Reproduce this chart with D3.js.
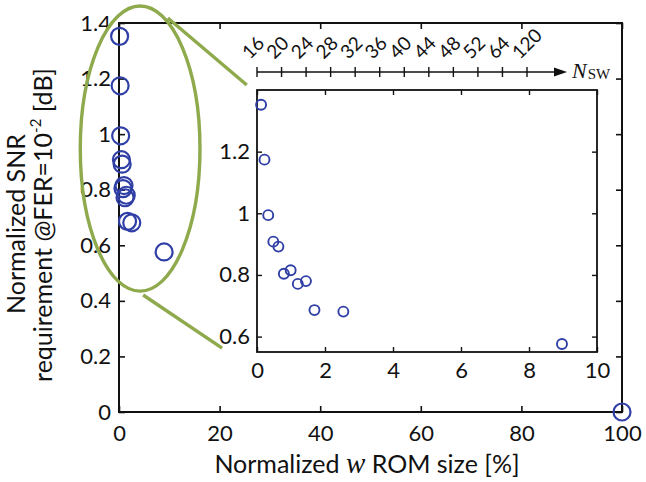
<!DOCTYPE html>
<html>
<head>
<meta charset="utf-8">
<script src="https://cdn.jsdelivr.net/npm/d3@7"></script>
<style>
  html, body { margin: 0; padding: 0; background: #fff; }
  svg { display: block; }
  text { font-family: Lato, "Open Sans", sans-serif; fill: #111; }
</style>
</head>
<body>
<svg id="chart" width="646" height="482"></svg>
<script>
// Normalized W-ROM size [%] and normalized SNR requirement [dB] per design point
const romSize = [0.12, 0.22, 0.33, 0.48, 0.63, 0.79, 0.99, 1.20, 1.44, 1.69, 2.54, 8.97, 100];
const snrReq  = [1.352, 1.174, 0.994, 0.908, 0.892, 0.804, 0.815, 0.771, 0.780, 0.686, 0.681, 0.576, 0];

// Sliding-window sizes shown on the N_SW scale above the zoomed view
const nswLabels = ["16", "20", "24", "28", "32", "36", "40", "44", "48", "52", "64", "120"];

// Tick values
const mainXTicks = [0, 20, 40, 60, 80, 100];
const mainYTicks = [0, 0.2, 0.4, 0.6, 0.8, 1.0, 1.2, 1.4];
const zoomXTicks = [0, 2, 4, 6, 8, 10];
const zoomYTicks = [0.6, 0.8, 1.0, 1.2];

const BLUE = "#2f3fa5";
const GREEN = "#8eaa4c";
const TICK_FONT = "22px";
const LABEL_FONT = "25px";

const svg = d3.select("#chart");
const fmt = d => (d === 0 ? "0" : d3.format("~g")(d));

// ---------- main axes ----------
const M = { left: 119, right: 622, top: 23, bottom: 412 };
const x = d3.scaleLinear().domain([0, 100]).range([M.left, M.right]);
const y = d3.scaleLinear().domain([0, 1.4]).range([M.bottom, M.top]);

function styleAxis(g, width) {
  g.selectAll(".domain").remove();
  g.selectAll(".tick line").attr("stroke", "#111").attr("stroke-width", width);
  g.selectAll(".tick text").style("font-size", TICK_FONT).attr("fill", "#111");
}

svg.append("g").attr("transform", `translate(0,${M.bottom})`)
  .call(d3.axisBottom(x).tickValues(mainXTicks).tickSize(-6).tickPadding(13).tickFormat(fmt))
  .call(g => styleAxis(g, 1.6));
svg.append("g").attr("transform", `translate(${M.left},0)`)
  .call(d3.axisLeft(y).tickValues(mainYTicks).tickSize(-6).tickPadding(8).tickFormat(fmt))
  .call(g => styleAxis(g, 1.6));
// mirrored ticks on top and right
svg.append("g").attr("transform", `translate(0,${M.top})`)
  .call(d3.axisTop(x).tickValues(mainXTicks).tickSize(-6).tickFormat(""))
  .call(g => styleAxis(g, 1.6));
svg.append("g").attr("transform", `translate(${M.right},0)`)
  .call(d3.axisRight(y).tickValues(mainYTicks).tickSize(-6).tickFormat(""))
  .call(g => styleAxis(g, 1.6));

svg.append("rect")
  .attr("x", M.left).attr("y", M.top)
  .attr("width", M.right - M.left).attr("height", M.bottom - M.top)
  .attr("fill", "none").attr("stroke", "#111").attr("stroke-width", 2);

// main scatter
svg.append("g").selectAll("circle")
  .data(d3.zip(romSize, snrReq))
  .join("circle")
  .attr("cx", d => x(d[0])).attr("cy", d => y(d[1]))
  .attr("r", 8.5)
  .attr("fill", "none").attr("stroke", BLUE).attr("stroke-width", 2.2);

// highlight ellipse around the low-ROM cluster, with connector lines to the zoom
const ell = { cx: 4.2, cy: 0.948, rx: 11.9, ry: 0.513 };
svg.append("ellipse")
  .attr("cx", x(ell.cx)).attr("cy", y(ell.cy))
  .attr("rx", x(ell.rx) - x(0)).attr("ry", y(0) - y(ell.ry))
  .attr("fill", "none").attr("stroke", GREEN).attr("stroke-width", 3.4);
const connectors = [
  [[9.7, 1.418], [25.4, 1.177]],
  [[4.8, 0.421], [20.5, 0.230]]
];
svg.append("g").selectAll("line")
  .data(connectors)
  .join("line")
  .attr("x1", d => x(d[0][0])).attr("y1", d => y(d[0][1]))
  .attr("x2", d => x(d[1][0])).attr("y2", d => y(d[1][1]))
  .attr("stroke", GREEN).attr("stroke-width", 3.4);

// axis titles
svg.append("text")
  .attr("transform", "translate(25,224) rotate(-90)")
  .attr("text-anchor", "middle")
  .style("font-size", LABEL_FONT)
  .text("Normalized SNR");
svg.append("text")
  .attr("transform", "translate(52,225) rotate(-90)")
  .attr("text-anchor", "middle")
  .style("font-size", LABEL_FONT)
  .call(t => {
    t.append("tspan").text("requirement @FER=10");
    t.append("tspan").attr("dy", -11).style("font-size", "15px").text("-2");
    t.append("tspan").attr("dy", 11).text(" [dB]");
  });

svg.append("text")
  .attr("x", 367).attr("y", 473)
  .attr("text-anchor", "middle")
  .style("font-size", LABEL_FONT)
  .call(t => {
    t.append("tspan").text("Normalized ");
    t.append("tspan")
      .style("font-family", "'Liberation Serif', 'DejaVu Serif', serif")
      .style("font-style", "italic").style("font-size", "29px")
      .text("w");
    t.append("tspan").text(" ROM size [%]");
  });

// ---------- zoomed inset ----------
const Z = { left: 257, right: 597, top: 90, bottom: 352 };
const zx = d3.scaleLinear().domain([0, 10]).range([Z.left, Z.right]);
const zy = d3.scaleLinear().domain([0.55, 1.4]).range([Z.bottom, Z.top]);

svg.append("rect")
  .attr("x", Z.left).attr("y", Z.top)
  .attr("width", Z.right - Z.left).attr("height", Z.bottom - Z.top)
  .attr("fill", "#fff").attr("stroke", "none");

svg.append("g").attr("transform", `translate(0,${Z.bottom})`)
  .call(d3.axisBottom(zx).tickValues(zoomXTicks).tickSize(-5).tickPadding(10).tickFormat(fmt))
  .call(g => styleAxis(g, 1.4));
svg.append("g").attr("transform", `translate(${Z.left},0)`)
  .call(d3.axisLeft(zy).tickValues(zoomYTicks).tickSize(-5).tickPadding(7).tickFormat(fmt))
  .call(g => styleAxis(g, 1.4));
svg.append("g").attr("transform", `translate(0,${Z.top})`)
  .call(d3.axisTop(zx).tickValues(zoomXTicks).tickSize(-5).tickFormat(""))
  .call(g => styleAxis(g, 1.4));
svg.append("g").attr("transform", `translate(${Z.right},0)`)
  .call(d3.axisRight(zy).tickValues(zoomYTicks).tickSize(-5).tickFormat(""))
  .call(g => styleAxis(g, 1.4));

svg.append("rect")
  .attr("x", Z.left).attr("y", Z.top)
  .attr("width", Z.right - Z.left).attr("height", Z.bottom - Z.top)
  .attr("fill", "none").attr("stroke", "#111").attr("stroke-width", 1.8);

const zoomPts = d3.zip(romSize, snrReq).filter(d => d[0] <= 10);
svg.append("g").selectAll("circle")
  .data(zoomPts)
  .join("circle")
  .attr("cx", d => zx(d[0])).attr("cy", d => zy(d[1]))
  .attr("r", 5)
  .attr("fill", "none").attr("stroke", BLUE).attr("stroke-width", 1.9);

// ---------- N_SW scale ----------
const nswY = 72;
const nsw = d3.scalePoint().domain(nswLabels).range([257, 527]);
const nswEnd = 567;
const nswG = svg.append("g");
nswG.append("line")
  .attr("x1", nsw(nswLabels[0])).attr("x2", nswEnd - 10)
  .attr("y1", nswY).attr("y2", nswY)
  .attr("stroke", "#111").attr("stroke-width", 1.6);
nswG.append("path")
  .attr("d", `M${nswEnd},${nswY} L${nswEnd - 13},${nswY - 4.5} L${nswEnd - 13},${nswY + 4.5} Z`)
  .attr("fill", "#111");
nswG.selectAll("line.tick")
  .data(nswLabels)
  .join("line").attr("class", "tick")
  .attr("x1", d => nsw(d)).attr("x2", d => nsw(d))
  .attr("y1", nswY - 5).attr("y2", nswY + 5)
  .attr("stroke", "#111").attr("stroke-width", 1.4);
nswG.selectAll("text.lbl")
  .data(nswLabels)
  .join("text").attr("class", "lbl")
  .attr("transform", d => `translate(${nsw(d) - 7},${nswY - 12}) rotate(-45)`)
  .style("font-size", "19px")
  .text(d => d);
nswG.append("text")
  .attr("x", 572).attr("y", 78)
  .style("font-family", "'Liberation Serif', 'DejaVu Serif', serif")
  .call(t => {
    t.append("tspan").style("font-style", "italic").style("font-size", "22px").text("N");
    t.append("tspan").attr("dx", 1).attr("dy", 1).style("font-size", "15px").text("SW");
  });
</script>
</body>
</html>
